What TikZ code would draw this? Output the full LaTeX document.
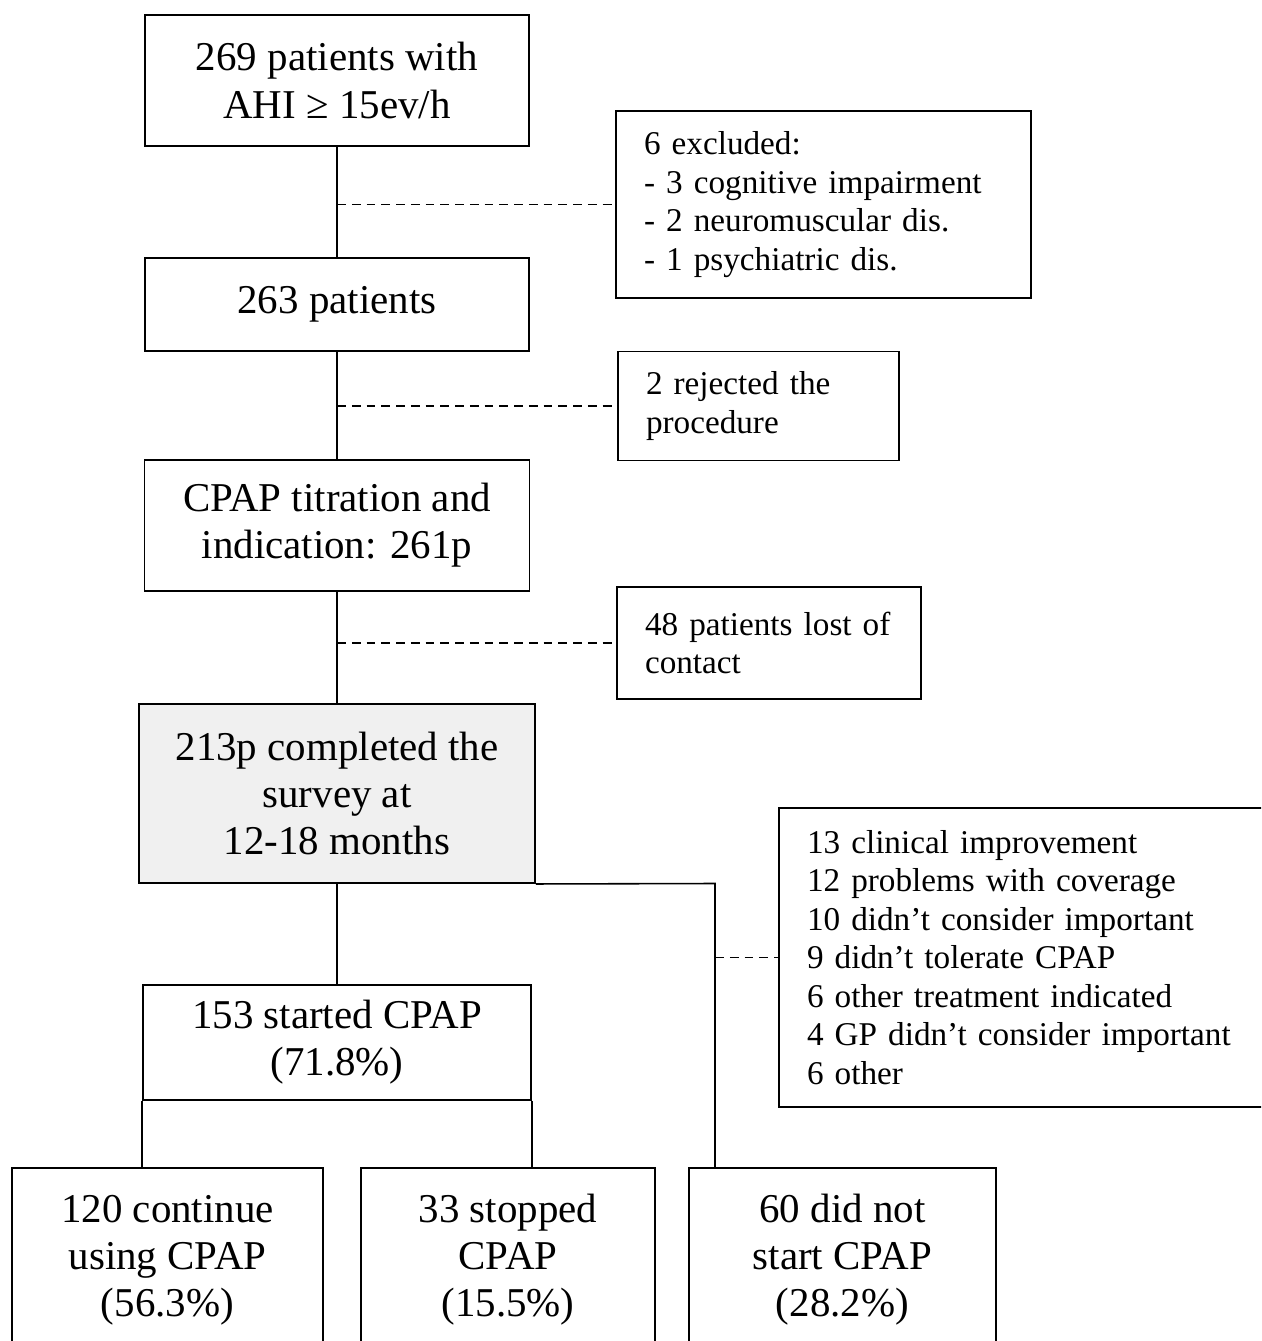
\documentclass[tikz,border=0pt]{standalone}
\usepackage{fontspec}
\setmainfont{Liberation Serif}
\usetikzlibrary{positioning}
\tikzset{box/.style={draw,line width=1.1pt,align=center,inner sep=0pt,
 font=\fontsize{23.3}{26.8}\selectfont},
 survey/.style={box,fill=black!6},
 note/.style={draw,line width=1.1pt,align=left,inner xsep=5.6mm,inner ysep=0pt,
 font=\fontsize{18.9}{21.9}\selectfont},
 lnk/.style={line width=0.9pt},
 dlnk/.style={line width=1.1pt,dash pattern=on 5pt off 3.4pt}}

\begin{document}
\begin{tikzpicture}[x=0.2mm,y=-0.2mm]
\useasboundingbox (0,0) rectangle (1261,1341);
\clip (0,0) rectangle (1261,1341);
\node[box,minimum width=76.8mm,minimum height=26.2mm] (all) at (337,80.5) {269 patients with\\AHI ≥ 15ev/h};
\node[box,minimum width=76.8mm,minimum height=18.6mm] (incl) at (337,304.5) {263 patients};
\node[box,minimum width=77mm,minimum height=26.2mm] (titr) at (337,525.5) {CPAP titration and\\indication: 261p};
\node[survey,minimum width=79.2mm,minimum height=35.8mm] (surv) at (337,793.5) {213p completed the\\survey at\\12-18 months};
\node[box,minimum width=77.6mm,minimum height=23mm] (start) at (337,1042.5) {153 started CPAP\\(71.8\%)};
\node[box,minimum width=62.2mm,minimum height=36.8mm] (cont) at (167.5,1260) {120 continue\\using CPAP\\(56.3\%)};
\node[box,minimum width=58.8mm,minimum height=36.8mm] (stop) at (508,1260) {33 stopped\\CPAP\\(15.5\%)};
\node[box,minimum width=61.4mm,minimum height=36.8mm] (nost) at (842.5,1260) {60 did not\\start CPAP\\(28.2\%)};
\node[note,text width=71.8mm,minimum height=37.4mm] (excl) at (823.5,204.5) {6 excluded:\\- 3 cognitive impairment\\- 2 neuromuscular dis.\\- 1 psychiatric dis.};
\node[note,text width=45mm,minimum height=21.8mm] (rej) at (758.5,406) {2 rejected the\\procedure};
\node[note,text width=49.6mm,minimum height=22.4mm] (lost) at (769,643) {48 patients lost of\\contact};
\node[note,text width=91mm,minimum height=59.8mm] (why) at (1034.5,957.5) {13 clinical improvement\\12 problems with coverage\\10 didn't consider important\\9 didn't tolerate CPAP\\6 other treatment indicated\\4 GP didn't consider important\\6 other};
\coordinate (turn) at (715,883.5);
\draw[lnk] (all)--(incl);
\draw[lnk] (incl)--(titr);
\draw[lnk] (titr)--(surv);
\draw[lnk] (surv)--(start);
\draw[lnk] (surv.south east)--(turn)--(turn |- nost.north);
\draw[lnk] (start.south west)--(start.south west |- cont.north);
\draw[lnk] (start.south east)--(start.south east |- stop.north);
\draw[dlnk] (all.south |- excl.west)--(excl.west);
\draw[dlnk] (incl.south |- rej.west)--(rej.west);
\draw[dlnk] (titr.south |- lost.west)--(lost.west);
\draw[dlnk] (turn |- why.west)--(why.west);
\end{tikzpicture}
\end{document}
